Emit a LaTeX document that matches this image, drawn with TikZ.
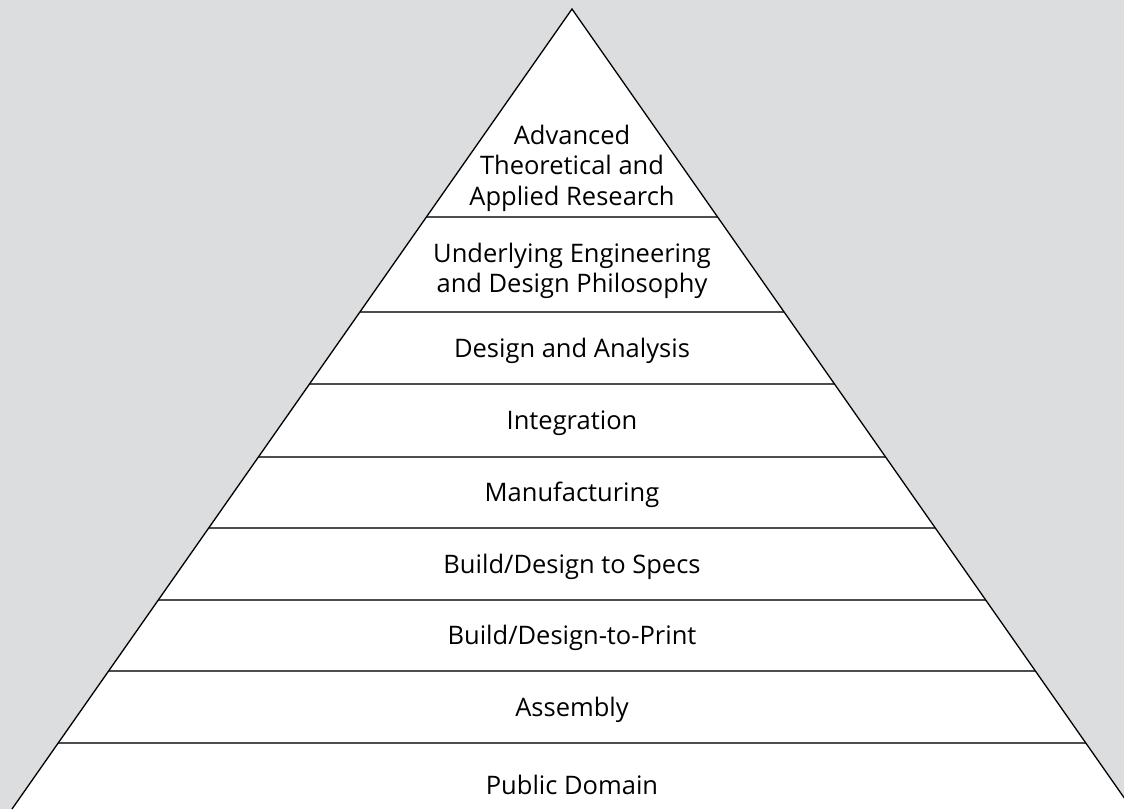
\documentclass[tikz,border=0pt]{standalone}
\usepackage{fontspec}
\setmainfont{Open Sans}
\usetikzlibrary{calc}
\definecolor{pagegray}{HTML}{DCDDDF}
\definecolor{bandline}{HTML}{4D4D4D}
\begin{document}
\begin{tikzpicture}[x=1pt,y=-1pt,layer label/.style={align=center,font=\fontsize{25.5}{30.5}\selectfont},band line/.style={draw=bandline,line width=1.6pt},side line/.style={draw=black,line width=1.3pt}]
                    \fill[pagegray] (0,0) rectangle (1124,809);
                    \useasboundingbox (0,0) rectangle (1124,809);
                    \clip (0,0) rectangle (1124,809);

                    \coordinate (top) at (572,9);
                    \coordinate (bl) at (12,809);
                    \coordinate (br) at (1132,809);
                    \fill[white] (top) -- (bl) -- (br) -- cycle;

                    \path[band line] ($(top)!0.26!(bl)$) -- ($(top)!0.26!(br)$);
                    \path[band line] ($(top)!0.37875!(bl)$) -- ($(top)!0.37875!(br)$);
                    \path[band line] ($(top)!0.46875!(bl)$) -- ($(top)!0.46875!(br)$);
                    \path[band line] ($(top)!0.56!(bl)$) -- ($(top)!0.56!(br)$);
                    \path[band line] ($(top)!0.64875!(bl)$) -- ($(top)!0.64875!(br)$);
                    \path[band line] ($(top)!0.73875!(bl)$) -- ($(top)!0.73875!(br)$);
                    \path[band line] ($(top)!0.8275!(bl)$) -- ($(top)!0.8275!(br)$);
                    \path[band line] ($(top)!0.9175!(bl)$) -- ($(top)!0.9175!(br)$);
                    \path[side line] (bl) -- (top) -- (br);

                    \node[layer label] at (572,168) (research) {Advanced\\Theoretical and\\Applied Research};
                    \node[layer label] at (572,271) (philosophy) {Underlying Engineering\\and Design Philosophy};
                    \node[layer label] at (572,351) (analysis) {Design and Analysis};
                    \node[layer label] at (572,423) (integration) {Integration};
                    \node[layer label] at (572,495) (manufacturing) {Manufacturing};
                    \node[layer label] at (572,567) (specs) {Build/Design to Specs};
                    \node[layer label] at (572,638) (print) {Build/Design-to-Print};
                    \node[layer label] at (572,710) (assembly) {Assembly};
                    \node[layer label] at (572,785) (domain) {Public Domain};
\end{tikzpicture}
\end{document}
